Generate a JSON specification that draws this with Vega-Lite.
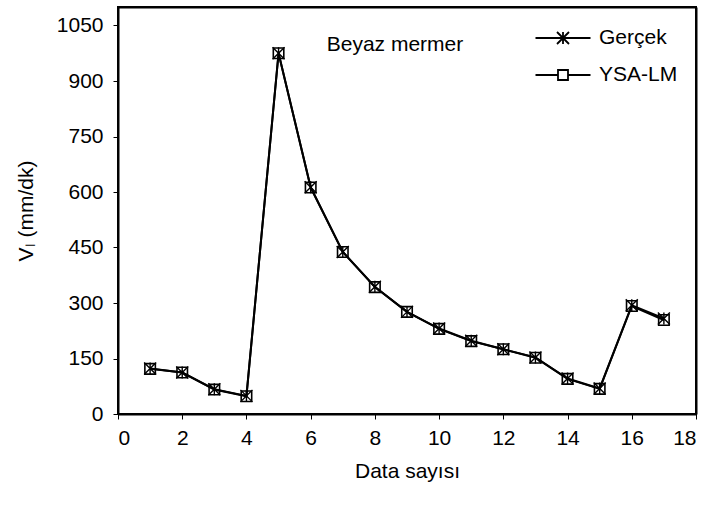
{
  "$schema": "https://vega.github.io/schema/vega-lite/v6.json",
  "width": 578,
  "height": 407,
  "autosize": "none",
  "padding": {"left": 118, "top": 7, "right": 16, "bottom": 93},
  "background": "white",
  "resolve": {"axis": {"x": "independent", "y": "independent"}},
  "config": {
    "font": "Liberation Sans",
    "view": {"stroke": "black", "strokeWidth": 2},
    "axis": {
      "grid": false,
      "domainColor": "black",
      "domainWidth": 2,
      "tickColor": "black",
      "tickWidth": 1,
      "tickSize": 5,
      "labelFont": "Liberation Sans",
      "labelFontSize": 21,
      "labelColor": "black",
      "titleFont": "Liberation Sans",
      "titleFontSize": 21,
      "titleFontWeight": "normal",
      "titleColor": "black"
    }
  },
  "data": {
    "values": [
      {"x": 1, "series": "Gerçek", "v": 123},
      {"x": 2, "series": "Gerçek", "v": 112},
      {"x": 3, "series": "Gerçek", "v": 67},
      {"x": 4, "series": "Gerçek", "v": 49},
      {"x": 5, "series": "Gerçek", "v": 975},
      {"x": 6, "series": "Gerçek", "v": 613},
      {"x": 7, "series": "Gerçek", "v": 438},
      {"x": 8, "series": "Gerçek", "v": 344},
      {"x": 9, "series": "Gerçek", "v": 276},
      {"x": 10, "series": "Gerçek", "v": 231},
      {"x": 11, "series": "Gerçek", "v": 198},
      {"x": 12, "series": "Gerçek", "v": 175},
      {"x": 13, "series": "Gerçek", "v": 153},
      {"x": 14, "series": "Gerçek", "v": 96},
      {"x": 15, "series": "Gerçek", "v": 69},
      {"x": 16, "series": "Gerçek", "v": 294},
      {"x": 17, "series": "Gerçek", "v": 258},
      {"x": 1, "series": "YSA-LM", "v": 122},
      {"x": 2, "series": "YSA-LM", "v": 112},
      {"x": 3, "series": "YSA-LM", "v": 66},
      {"x": 4, "series": "YSA-LM", "v": 48},
      {"x": 5, "series": "YSA-LM", "v": 975},
      {"x": 6, "series": "YSA-LM", "v": 612},
      {"x": 7, "series": "YSA-LM", "v": 438},
      {"x": 8, "series": "YSA-LM", "v": 343},
      {"x": 9, "series": "YSA-LM", "v": 276},
      {"x": 10, "series": "YSA-LM", "v": 230},
      {"x": 11, "series": "YSA-LM", "v": 197},
      {"x": 12, "series": "YSA-LM", "v": 175},
      {"x": 13, "series": "YSA-LM", "v": 152},
      {"x": 14, "series": "YSA-LM", "v": 95},
      {"x": 15, "series": "YSA-LM", "v": 68},
      {"x": 16, "series": "YSA-LM", "v": 292},
      {"x": 17, "series": "YSA-LM", "v": 254}
    ]
  },
  "layer": [
    {
      "mark": {"type": "line", "color": "black", "strokeWidth": 2},
      "encoding": {
        "detail": {"field": "series"},
        "x": {
          "field": "x",
          "type": "quantitative",
          "scale": {"domain": [0, 18], "nice": false, "zero": false},
          "axis": {"orient": "bottom", "values": [0, 2, 4, 6, 8, 10, 12, 14, 16, 18], "format": "d", "labelPadding": 8, "title": "Data sayısı", "titlePadding": 12}
        },
        "y": {
          "field": "v",
          "type": "quantitative",
          "scale": {"domain": [0, 1100], "nice": false},
          "axis": {"orient": "left", "values": [0, 150, 300, 450, 600, 750, 900, 1050], "format": "d", "labelPadding": 10, "title": "Vₗ (mm/dk)", "titlePadding": 20}
        }
      }
    },
    {
      "transform": [{"filter": "datum.series === 'YSA-LM'"}],
      "mark": {"type": "point", "shape": "square", "filled": false, "stroke": "black", "strokeWidth": 1.6, "size": 110, "opacity": 1},
      "encoding": {
        "x": {"field": "x", "type": "quantitative", "axis": {"orient": "top", "labels": false, "ticks": false, "title": null, "domain": true, "domainColor": "black", "domainWidth": 2, "domainOpacity": 1, "zindex": 1}},
        "y": {"field": "v", "type": "quantitative", "axis": {"orient": "right", "labels": false, "ticks": false, "title": null, "domain": true, "domainColor": "black", "domainWidth": 2, "domainOpacity": 1, "zindex": 1}}
      }
    },
    {
      "transform": [{"filter": "datum.series === 'Gerçek'"}],
      "mark": {"type": "point", "shape": "M0,-1L0,1M-1,-1L1,1M-1,1L1,-1", "filled": false, "stroke": "black", "strokeWidth": 1.4, "size": 144, "opacity": 1},
      "encoding": {
        "x": {"field": "x", "type": "quantitative", "axis": null},
        "y": {"field": "v", "type": "quantitative", "axis": null}
      }
    },
    {
      "mark": {"type": "point", "filled": false, "stroke": "black", "opacity": 0},
      "encoding": {
        "x": {"field": "x", "type": "quantitative", "axis": null},
        "y": {"field": "v", "type": "quantitative", "axis": null},
        "shape": {
          "field": "series",
          "type": "nominal",
          "scale": {
            "domain": ["Gerçek", "YSA-LM"],
            "range": [
              "M-2.75,0L2.75,0M0,-0.6L0,0.6M-0.6,-0.6L0.6,0.6M-0.6,0.6L0.6,-0.6",
              "M-2.75,0L-0.5,0M0.5,0L2.75,0M-0.5,-0.5L0.5,-0.5L0.5,0.5L-0.5,0.5Z"
            ]
          },
          "legend": {
            "orient": "none",
            "legendX": 434,
            "legendY": 20,
            "title": null,
            "padding": 0,
            "symbolSize": 400,
            "symbolStrokeColor": "black",
            "symbolFillColor": "transparent",
            "symbolStrokeWidth": 1.8,
            "symbolOpacity": 1,
            "labelFont": "Liberation Sans",
            "labelFontSize": 21,
            "labelColor": "black",
            "labelOffset": 25,
            "rowPadding": 16
          }
        }
      }
    },
    {
      "transform": [{"filter": "datum.x === 1 && datum.series === 'Gerçek'"}],
      "mark": {"type": "text", "text": "Beyaz mermer", "font": "Liberation Sans", "fontSize": 21, "align": "left", "baseline": "middle", "color": "black"},
      "encoding": {
        "x": {"datum": 6.5, "type": "quantitative", "axis": null},
        "y": {"datum": 998, "type": "quantitative", "axis": null}
      }
    }
  ]
}
